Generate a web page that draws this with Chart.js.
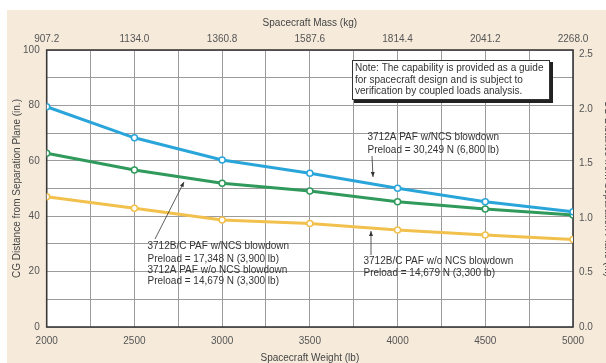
<!DOCTYPE html>
<html>
<head>
<meta charset="utf-8">
<script src="https://cdn.jsdelivr.net/npm/chart.js@4.4.1/dist/chart.umd.min.js"></script>
<style>
    html, body { margin: 0; padding: 0; background: #ffffff; }
    #cgChart { display: block; }
</style>
</head>
<body>
<canvas id="cgChart" width="606" height="363"></canvas>
<script>
// Spacecraft weight (lb) at each plotted point
const weightLb = [2000, 2500, 3000, 3500, 4000, 4500, 5000];

// CG distance from separation plane (in.)
const cgNcs6800 = [79.5, 68.3, 60.3, 55.5, 50.1, 45.2, 41.6];   // 3712A PAF w/NCS blowdown
const cgNcs3900 = [62.7, 56.7, 51.9, 49.1, 45.2, 42.6, 40.4];   // 3712B/C PAF w/NCS blowdown
const cgNoNcs3300 = [47.0, 42.9, 38.6, 37.4, 35.0, 33.2, 31.6]; // w/o NCS blowdown (3712A and 3712B/C)

// tick labels
const weightTickLabels = ["2000", "2500", "3000", "3500", "4000", "4500", "5000"];
const massTickLabels = ["907.2", "1134.0", "1360.8", "1587.6", "1814.4", "2041.2", "2268.0"];
const inchTickLabels = ["0", "20", "40", "60", "80", "100"];
const meterTickLabels = ["0.0", "0.5", "1.0", "1.5", "2.0", "2.5"];

const FONT = "'Liberation Sans', Arial, sans-serif";
const tickFont = { family: FONT, size: 10 };
const titleFont = { family: FONT, size: 10 };
const tickColor = "#555555";
const titleColor = "#444444";

function toPoints(values) {
    return weightLb.map((w, i) => ({ x: w, y: values[i] }));
}

function makeSeries(label, values, color) {
    return {
        label: label,
        data: toPoints(values),
        borderColor: color,
        borderWidth: 3,
        pointRadius: 3,
        pointBorderWidth: 1.5,
        pointBackgroundColor: "#ffffff",
        pointBorderColor: color,
        tension: 0,
        xAxisID: "x",
        yAxisID: "y",
    };
}

function arrow(ctx, x1, y1, x2, y2) {
    // line from (x1,y1) with a small head at (x2,y2)
    const ang = Math.atan2(y2 - y1, x2 - x1);
    ctx.beginPath();
    ctx.moveTo(x1, y1);
    ctx.lineTo(x2, y2);
    ctx.stroke();
    ctx.beginPath();
    ctx.moveTo(x2, y2);
    ctx.lineTo(x2 - 5 * Math.cos(ang) + 2 * Math.sin(ang), y2 - 5 * Math.sin(ang) - 2 * Math.cos(ang));
    ctx.lineTo(x2 - 5 * Math.cos(ang) - 2 * Math.sin(ang), y2 - 5 * Math.sin(ang) + 2 * Math.cos(ang));
    ctx.closePath();
    ctx.fill();
}

const paperPlugin = {
    id: "paper",
    beforeDraw(chart) {
        const { ctx, chartArea: a, width, height } = chart;
        ctx.save();
        ctx.fillStyle = "#ffffff";
        ctx.fillRect(0, 0, width, height);
        ctx.fillStyle = "#f6ebdb";
        ctx.fillRect(7, 10, width - 7, height - 10);
        ctx.fillStyle = "#ffffff";
        ctx.fillRect(a.left, a.top, a.right - a.left, a.bottom - a.top);
        ctx.restore();
    },
    beforeDatasetsDraw(chart) {
        const { ctx, chartArea: a } = chart;
        ctx.save();
        ctx.strokeStyle = "#3a3a3a";
        ctx.lineWidth = 1.6;
        ctx.strokeRect(a.left, a.top, a.right - a.left, a.bottom - a.top);
        ctx.restore();
    },
    afterDatasetsDraw(chart) {
        const ctx = chart.ctx;
        ctx.save();

        // note box with drop shadow
        ctx.fillStyle = "#222222";
        ctx.fillRect(354, 62, 199, 41);
        ctx.fillStyle = "#ffffff";
        ctx.fillRect(352, 60, 198, 40);
        ctx.strokeStyle = "#333333";
        ctx.lineWidth = 1;
        ctx.strokeRect(352.5, 60.5, 197, 39);

        ctx.fillStyle = "#333333";
        ctx.font = "10px " + FONT;
        ctx.textAlign = "left";
        ctx.textBaseline = "middle";
        ctx.fillText("Note: The capability is provided as a guide", 355, 68.5);
        ctx.fillText("for spacecraft design and is subject to", 355, 80);
        ctx.fillText("verification by coupled loads analysis.", 355, 91);

        // series labels
        ctx.fillText("3712A PAF w/NCS blowdown", 367.5, 137.5);
        ctx.fillText("Preload = 30,249 N (6,800 lb)", 367.5, 150);

        ctx.fillText("3712B/C PAF w/NCS blowdown", 147.5, 246.5);
        ctx.fillText("Preload = 17,348 N (3,900 lb)", 147.5, 259);
        ctx.fillText("3712A PAF w/o NCS blowdown", 147.5, 270);
        ctx.fillText("Preload = 14,679 N (3,300 lb)", 147.5, 281);

        ctx.fillText("3712B/C PAF w/o NCS blowdown", 363.5, 261.5);
        ctx.fillText("Preload = 14,679 N (3,300 lb)", 363.5, 273);

        // leader arrows
        ctx.strokeStyle = "#333333";
        ctx.lineWidth = 0.8;
        arrow(ctx, 372, 156, 373, 177);
        arrow(ctx, 155, 239, 184, 182);
        arrow(ctx, 371, 255, 371, 231);

        ctx.restore();
    },
};

const ctx = document.getElementById("cgChart").getContext("2d");
new Chart(ctx, {
    type: "line",
    data: {
        datasets: [
            makeSeries("3712A PAF w/NCS blowdown", cgNcs6800, "#2aa5da"),
            makeSeries("3712B/C PAF w/NCS blowdown", cgNcs3900, "#2f9a5c"),
            makeSeries("PAF w/o NCS blowdown", cgNoNcs3300, "#f2c04c"),
        ],
    },
    options: {
        responsive: false,
        animation: false,
        layout: { padding: 0 },
        plugins: {
            legend: { display: false },
            tooltip: { enabled: false },
        },
        scales: {
            x: {
                type: "linear",
                position: "bottom",
                min: 2000,
                max: 5000,
                grid: { color: "#9c9c9c", lineWidth: 1, drawTicks: false },
                border: { display: false },
                ticks: {
                    stepSize: 250,
                    autoSkip: false,
                    maxRotation: 0,
                    padding: 8,
                    color: tickColor,
                    font: tickFont,
                    callback: (v) => (v % 500 === 0 ? weightTickLabels[(v - 2000) / 500] : ""),
                },
                title: {
                    display: true,
                    text: "Spacecraft Weight (lb)",
                    color: titleColor,
                    font: titleFont,
                    padding: { top: 0, bottom: -1 },
                },
                afterFit: (s) => { s.height = 36; },
            },
            x2: {
                type: "linear",
                position: "top",
                min: 2000,
                max: 5000,
                grid: { display: false, drawTicks: false },
                border: { display: false },
                ticks: {
                    stepSize: 500,
                    autoSkip: false,
                    maxRotation: 0,
                    padding: 5,
                    color: tickColor,
                    font: tickFont,
                    callback: (v, i) => massTickLabels[i],
                },
                title: {
                    display: true,
                    text: "Spacecraft Mass (kg)",
                    color: titleColor,
                    font: titleFont,
                    padding: { top: 17, bottom: 0 },
                },
                afterFit: (s) => { s.height = 50; },
            },
            y: {
                type: "linear",
                position: "left",
                min: 0,
                max: 100,
                grid: { color: "#9c9c9c", lineWidth: 1, drawTicks: false },
                border: { display: false },
                ticks: {
                    stepSize: 10,
                    autoSkip: false,
                    padding: 7,
                    color: tickColor,
                    font: tickFont,
                    callback: (v) => (v % 20 === 0 ? inchTickLabels[v / 20] : ""),
                },
                title: {
                    display: true,
                    text: "CG Distance from Separation Plane (in.)",
                    color: titleColor,
                    font: titleFont,
                    padding: { top: 11, bottom: 0 },
                },
                afterFit: (s) => { s.width = 46.7; },
            },
            y2: {
                type: "linear",
                position: "right",
                min: 0,
                max: 2.54,
                grid: { display: false, drawTicks: false },
                border: { display: false },
                ticks: {
                    stepSize: 0.5,
                    includeBounds: false,
                    autoSkip: false,
                    padding: 6,
                    color: tickColor,
                    font: tickFont,
                    callback: (v) => meterTickLabels[Math.round(v * 2)],
                },
                title: {
                    display: true,
                    text: "CG Distance from Separation Plane (m)",
                    color: titleColor,
                    font: titleFont,
                    padding: { top: -8, bottom: 0 },
                },
                afterFit: (s) => { s.width = 33; },
            },
        },
    },
    plugins: [paperPlugin],
});
</script>
</body>
</html>
